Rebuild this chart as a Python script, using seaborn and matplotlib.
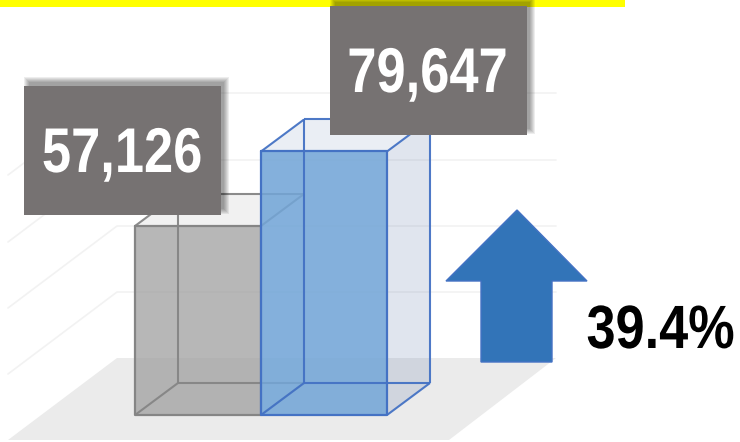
import matplotlib
matplotlib.use("Agg")
import matplotlib.pyplot as plt
from matplotlib.font_manager import FontProperties
from matplotlib.patches import Polygon, Rectangle
from matplotlib.text import Text
from matplotlib.textpath import TextPath
from matplotlib.transforms import Affine2D
import seaborn as sns

# ---- data ----
categories = ["Previous", "Current"]
values = [57126, 79647]
value_labels = ["57,126", "79,647"]
change_label = "39.4%"

# ---- layout (pixels) ----
W, H = 740, 442
BAR_LEFT, BAR_W, BASE_Y = 135, 126, 415
PX_PER_UNIT = 189 / values[0]
DEPTH_X, DEPTH_Y = 43, 32
GRID_Y = [93, 160, 226, 292]

sns.set_theme(style="white")
fig = plt.figure(figsize=(W / 100, H / 100), dpi=100)
ax = fig.add_axes([0, 0, 1, 1])
sns.barplot(x=categories, y=values, hue=categories, palette=["#9c9c9c", "#72a5d7"],
            width=1.0, saturation=1, legend=False, ax=ax, zorder=5)
x0 = -0.5 - BAR_LEFT / BAR_W
ax.set_xlim(x0, x0 + W / BAR_W)
ax.set_ylim(-(H - BASE_Y) / PX_PER_UNIT, BASE_Y / PX_PER_UNIT)
ax.axis("off")

px = Affine2D().scale(1, -1).translate(0, H)


def poly(pts, z, **kw):
    ax.add_patch(Polygon(pts, closed=True, transform=px, zorder=z, clip_on=False, **kw))


def rect(x, y, w, h, z, **kw):
    ax.add_patch(Rectangle((x, y), w, h, transform=px, zorder=z, clip_on=False, **kw))


class CondensedText(Text):
    """A text artist whose glyphs are drawn horizontally condensed."""

    def __init__(self, *args, stretch=1.0, **kw):
        super().__init__(*args, **kw)
        self._stretch = stretch

    def _glyphs(self, renderer_dpi):
        fp = self.get_fontproperties()
        path = TextPath((0, 0), self.get_text(), size=fp.get_size_in_points(), prop=fp)
        k = renderer_dpi / 72
        ext = path.get_extents()
        cx, cy = self.get_transform().transform((self.get_position()))
        tr = Affine2D().translate(-(ext.x0 + ext.x1) / 2, 0).scale(self._stretch * k, k).translate(cx, cy)
        return path, tr

    def draw(self, renderer):
        if not self.get_visible():
            return
        path, tr = self._glyphs(fig.dpi)
        gc = renderer.new_gc()
        gc.set_linewidth(0)
        gc.set_antialiased(True)
        renderer.draw_path(gc, path, tr, rgbFace=matplotlib.colors.to_rgb(self.get_color()))
        gc.restore()

    def get_window_extent(self, renderer=None, dpi=None):
        path, tr = self._glyphs(fig.dpi)
        return path.get_extents(tr)


def label(x, baseline, s, size, stretch, color):
    t = CondensedText(x, baseline, s, stretch=stretch, transform=px, color=color, zorder=11,
                      fontproperties=FontProperties(family="Liberation Sans", weight="bold", size=size))
    ax.add_artist(t)


# yellow band
rect(0, 0, 625, 7, 0.5, fc="#ffff00", ec="none")

# floor and grid
poly([(8, 440), (117, 358), (556, 358), (449, 440)], 1, fc="#ebebeb", ec="none")
for gy in GRID_Y:
    ax.plot([8, 117, 556], [gy + 82, gy, gy], transform=px, color="#f2f2f2", lw=1.2, zorder=1.5)

# bars: seaborn draws the front faces; 3-D boxes follow from the same values
edge_cols = ["#858585", "#4472c4"]
side_cols = [("#9c9c9c", 0.02), ("#647daa", 0.20)]
top_cols = [("#9c9c9c", 0.14), ("#647daa", 0.13)]
alphas = [0.72, 0.87]
for i, (bar, val) in enumerate(zip(ax.patches, values)):
    bar.set_alpha(alphas[i])
    bar.set_edgecolor("none")
    base = 3 + 2 * i
    l = BAR_LEFT + i * BAR_W
    r = l + BAR_W
    t = BASE_Y - val * PX_PER_UNIT
    b = BASE_Y
    dx, dy = DEPTH_X, DEPTH_Y
    poly([(l, t), (r, t), (r + dx, t - dy), (l + dx, t - dy)], base, fc=top_cols[i][0], alpha=top_cols[i][1], ec="none")
    poly([(r, t), (r + dx, t - dy), (r + dx, b - dy), (r, b)], base, fc=side_cols[i][0], alpha=side_cols[i][1], ec="none")
    bar.set_zorder(base + 0.4)
    segs = [
        [(l + dx, t - dy), (l + dx, b - dy)], [(l + dx, b - dy), (r + dx, b - dy)],
        [(l, b), (l + dx, b - dy)], [(r, b), (r + dx, b - dy)],
        [(l + dx, t - dy), (r + dx, t - dy)], [(r + dx, t - dy), (r + dx, b - dy)],
        [(l, t), (l + dx, t - dy)], [(r, t), (r + dx, t - dy)],
    ]
    for s in segs:
        ax.plot(*zip(*s), transform=px, color=edge_cols[i], lw=1.5, zorder=base + 0.5,
                alpha=0.95, solid_capstyle="butt")
    ax.plot([l, l, r, r, l], [t, b, b, t, t], transform=px, color=edge_cols[i], lw=1.6, zorder=base + 1.5)

# value labels with soft shadow toward the upper right
boxes = [(24, 86, 122, 172), (330, 6, 427.5, 92)]
BW, BH = 197, 129
for (bx, by, tx, base_y), lab in zip(boxes, value_labels):
    for g in range(5, -1, -1):
        rect(bx + 5 - g, by - 4 - g, BW + 2 * g - 2, BH + 2 * g - 2, 9, fc="#000000", alpha=0.07, ec="none")
    rect(bx, by, BW, BH, 10, fc="#767272", ec="none")
    label(tx, base_y, lab, 45.5, 0.83, "white")

# arrow and change label
poly([(517, 210), (587, 281), (552, 281), (552, 362), (481, 362), (481, 281), (446, 281)], 8,
     fc="#3274b8", ec="#4472c4", lw=1)
label(660.5, 348, change_label, 44, 0.855, "black")

fig.savefig("out.png", dpi=100)
